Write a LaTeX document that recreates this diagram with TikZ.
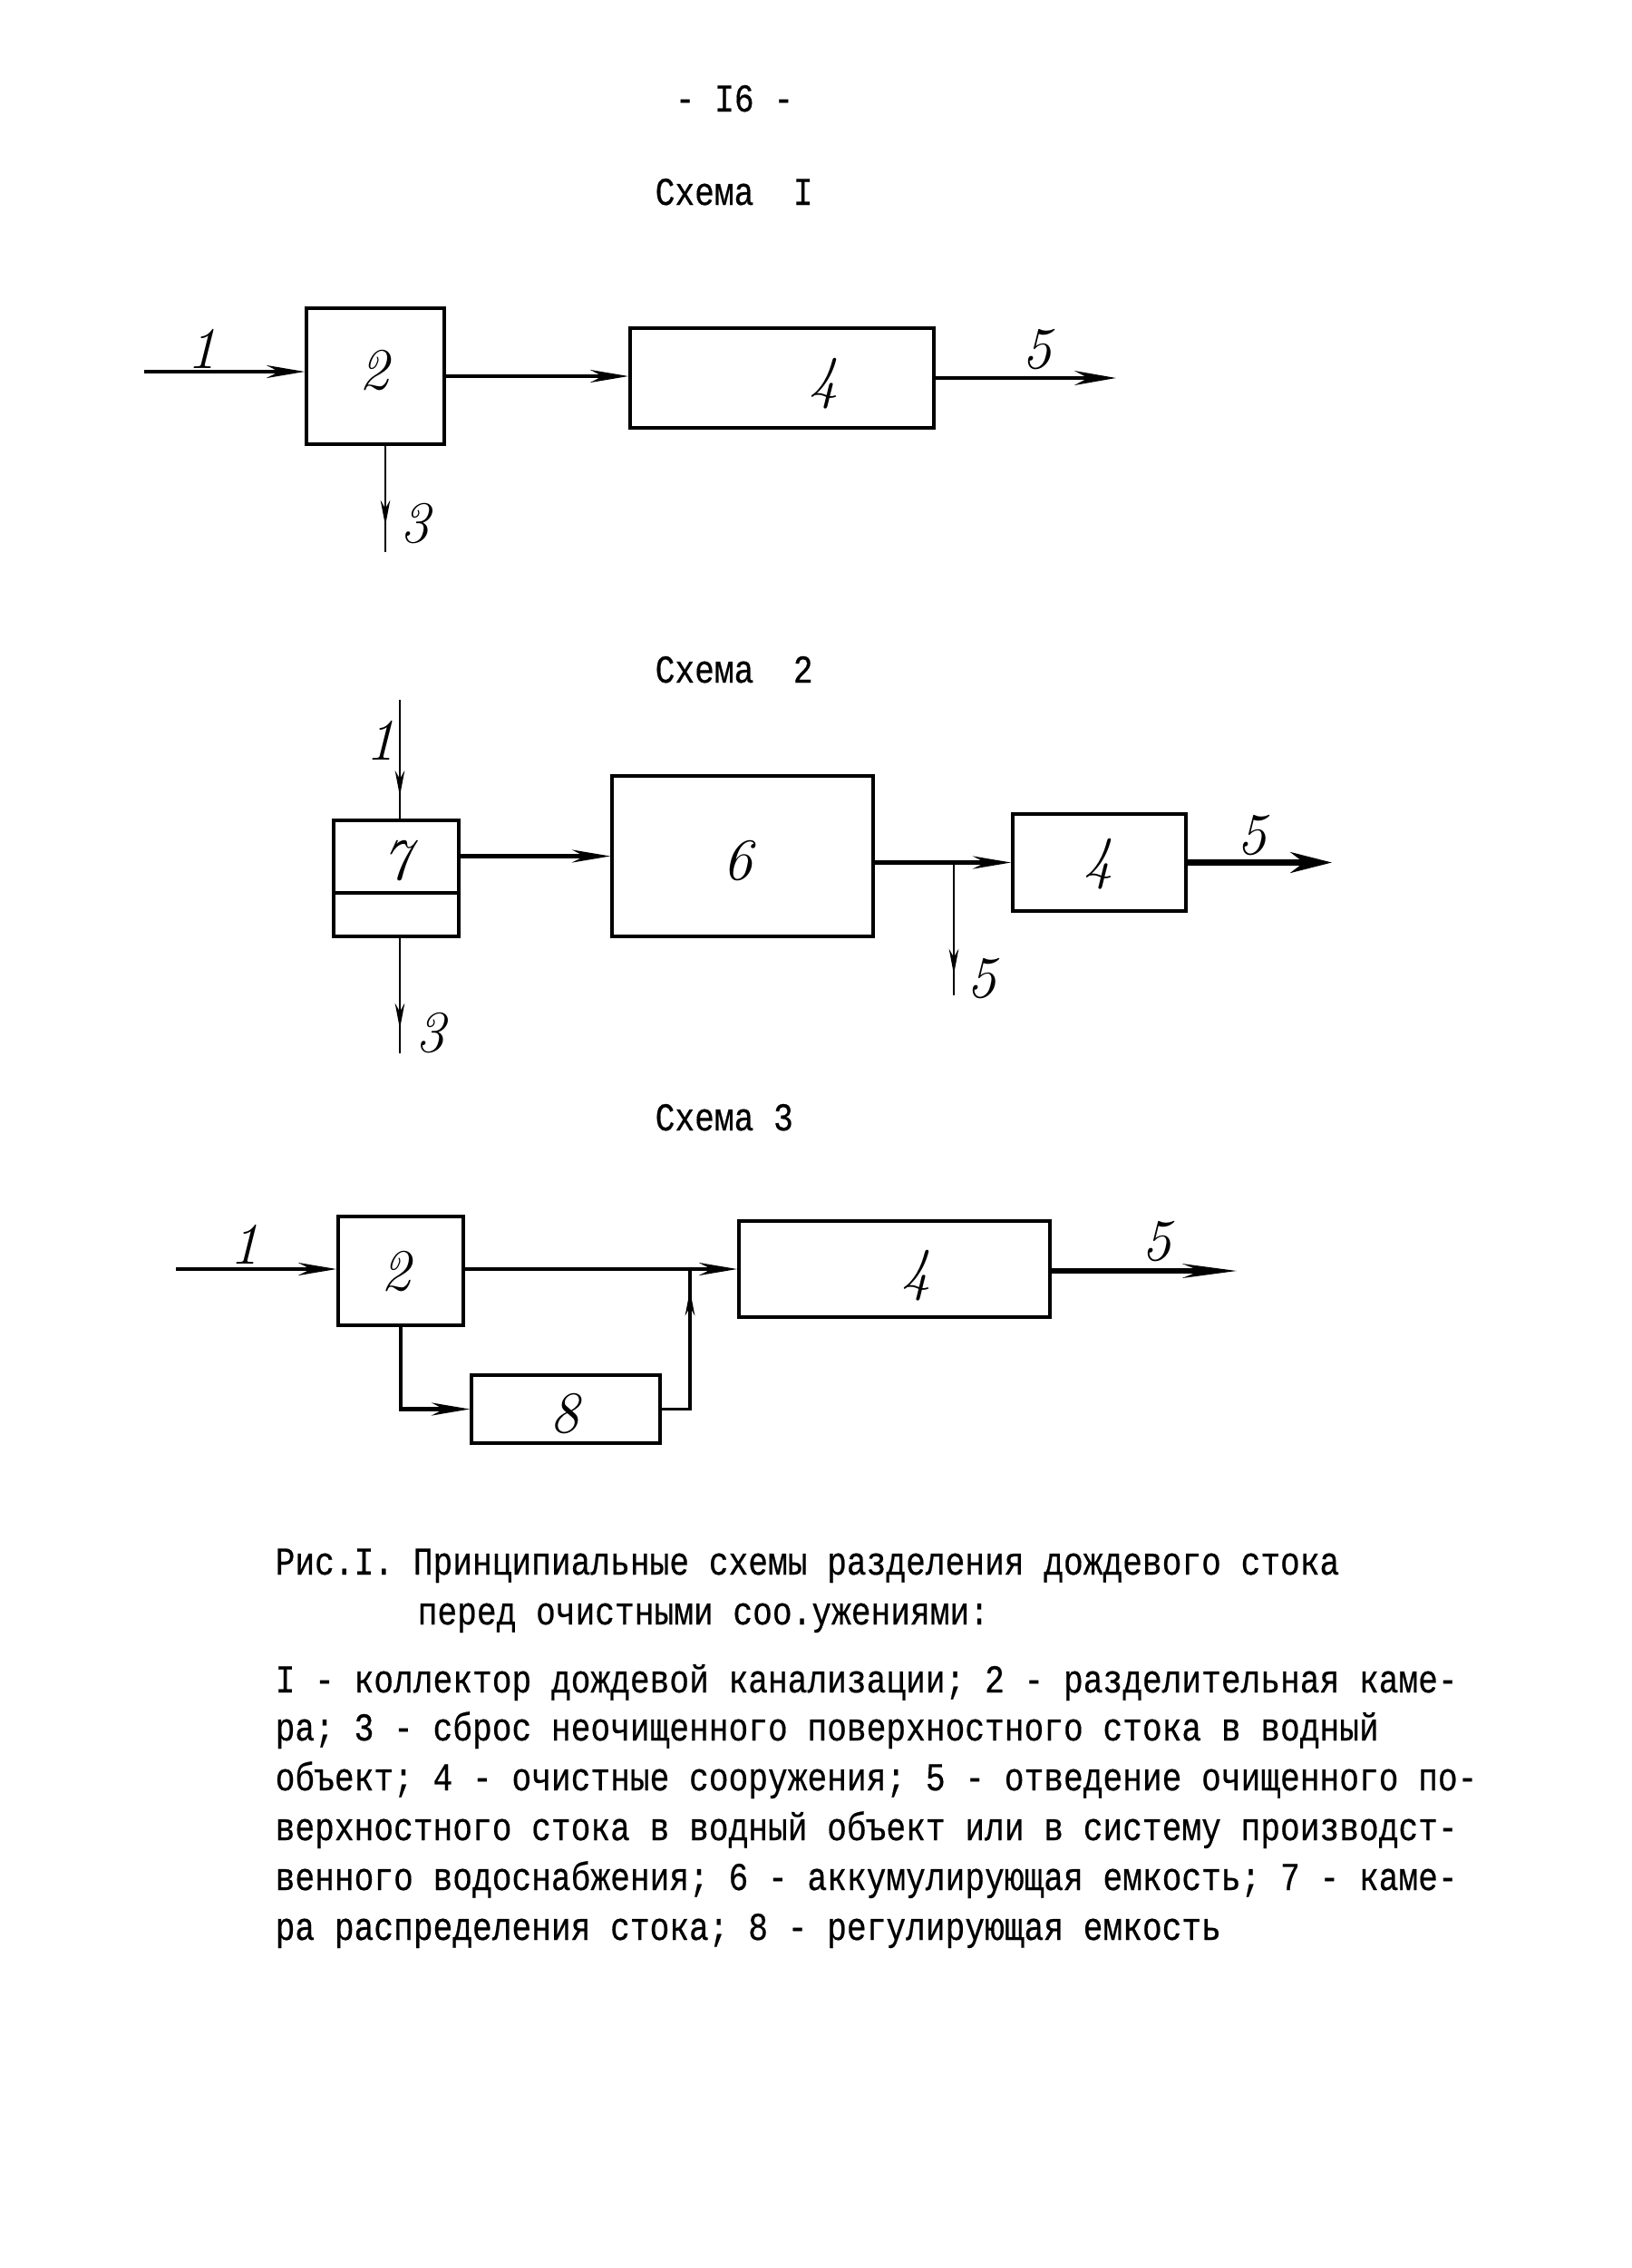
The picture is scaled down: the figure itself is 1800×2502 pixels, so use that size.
\documentclass[tikz,border=0pt]{standalone}
\usepackage{fontspec}
\usepackage{graphicx}
\setmonofont{Liberation Mono}[FakeBold=0.5]
\usetikzlibrary{arrows.meta,decorations.markings}
\newcommand\tyt[1]{\scalebox{1}[1.2]{#1}}
\begin{document}
\begin{tikzpicture}[x=0.01cm,y=-0.01cm,
  box/.style={draw, line width=1pt, inner sep=0pt, rectangle},
  lab/.style={font=\fontsize{18.5}{18.5}\selectfont\itshape, inner sep=0pt},
  tw/.style={font=\ttfamily\fontsize{10.3}{12}\selectfont, inner sep=0pt, anchor=base west},
  arr/.style={line width=1.2pt, -{Stealth[length=12pt,width=4pt]}},
  thinln/.style={line width=0.8pt},
  midtip/.style={postaction={decorate}, decoration={markings, mark=at position #1 with {\arrow{Stealth[length=8pt,width=3pt]}}}}
]
\useasboundingbox (0,0) rectangle (1800,2502);

% header
\node[tw] (hdr) at (744,123) {\tyt{- I6 -}};
\node[tw] (t1) at (722,226) {\tyt{Схема~~I}};

% ---------- Schema 1
\node[box, minimum width=1.52cm, minimum height=1.5cm] (a2) at (414,415) {};
\node[box, minimum width=3.35cm, minimum height=1.1cm] (a4) at (862.5,417) {};
\coordinate (a1s) at (159,410);
\draw[arr] (a1s) -- (a1s -| a2.west);
\draw[arr] (a2.east) -- (a2.east -| a4.west);
\coordinate (a5e) at (1231,417);
\draw[line width=1.3pt, -{Stealth[length=13pt,width=4.5pt]}] (a4.east) -- (a5e);
\coordinate (a3e) at (425,609);
\draw[thinln, midtip=-0.29cm] (a3e |- a2.south) -- (a3e);
\node[lab] (la1) at (223,385) {1};
\node[lab] (la2) at (413,409) {2};
\node[lab] (la4) at (909,423) {4};
\node[lab] (la5) at (1144,386) {5};
\node[lab] (la3) at (458,578) {3};

% ---------- Schema 2
\node[tw] (t2) at (722,753) {\tyt{Схема~~2}};
\node[box, minimum width=1.38cm, minimum height=1.28cm] (b7) at (437,969) {};
\coordinate (b7d) at (437,985);
\draw[line width=1pt] (b7d -| b7.west) -- (b7d -| b7.east);
\node[box, minimum width=2.88cm, minimum height=1.77cm] (b6) at (819,944.5) {};
\node[box, minimum width=1.91cm, minimum height=1.07cm] (b4) at (1212.5,951.5) {};
\coordinate (b1s) at (441,772);
\draw[thinln, midtip=-0.25cm] (b1s) -- (b1s |- b7.north);
\draw[arr] (b7.east |- b6.west) -- (b6.west);
\coordinate (bj) at (1052,951.5);
\draw[arr] (b6.east |- b4.west) -- (b4.west);
\coordinate (bd) at (1052,1098);
\draw[thinln, midtip=-0.23cm] (bj) -- (bd);
\coordinate (b5e) at (1469,955);
\draw[line width=1.8pt, -{Stealth[length=13pt,width=6.5pt]}] (b4.east) -- (b4.east -| b5e);
\coordinate (b3e) at (441,1162);
\draw[thinln, midtip=-0.27cm] (b3e |- b7.south) -- (b3e);
\node[lab] (lb1) at (420,817) {1};
\node[lab] (lb7) at (438,950) {7};
\node[lab] (lb6) at (814,950) {6};
\node[lab] (lb4) at (1212,953) {4};
\node[lab] (lb5a) at (1381,922) {5};
\node[lab] (lb5b) at (1083,1080) {5};
\node[lab] (lb3) at (475,1140) {3};

% ---------- Schema 3
\node[tw] (t3) at (722,1247) {\tyt{Схема 3}};
\node[box, minimum width=1.38cm, minimum height=1.2cm] (c2) at (442,1402) {};
\node[box, minimum width=3.43cm, minimum height=1.06cm] (c4) at (986.5,1400) {};
\node[box, minimum width=2.08cm, minimum height=0.75cm] (c8) at (624,1554.5) {};
\coordinate (c1s) at (194,1400);
\draw[arr] (c1s) -- (c1s -| c2.west);
\coordinate (cj) at (761,1400);
\draw[arr] (c2.east |- c4.west) -- (c4.west);
\draw[arr] (c2.south) -- (c2.south |- c8.west) -- (c8.west);
\draw[thinln, line width=1pt, midtip=-0.23cm] (c8.east) -| (cj);
\coordinate (c5e) at (1364,1402);
\draw[line width=1.5pt, -{Stealth[length=17pt,width=4.5pt]}] (c4.east |- c5e) -- (c5e);
\node[lab] (lc1) at (270,1373) {1};
\node[lab] (lc2) at (437,1403) {2};
\node[lab] (lc4) at (1011,1407) {4};
\node[lab] (lc5) at (1276,1370) {5};
\node[lab] (lc8) at (623,1560) {8};

% ---------- caption
\node[tw] (cap1) at (303,1737) {\tyt{Рис.I. Принципиальные схемы разделения дождевого стока}};
\node[tw] (cap2) at (460,1792) {\tyt{перед очистными соо.ужениями:}};
\node[tw] (cap3) at (303,1867) {\tyt{I - коллектор дождевой канализации; 2 - разделительная каме-}};
\node[tw] (cap4) at (303,1920) {\tyt{ра; 3 - сброс неочищенного поверхностного стока в водный}};
\node[tw] (cap5) at (303,1975) {\tyt{объект; 4 - очистные сооружения; 5 - отведение очищенного по-}};
\node[tw] (cap6) at (303,2030) {\tyt{верхностного стока в водный объект или в систему производст-}};
\node[tw] (cap7) at (303,2085) {\tyt{венного водоснабжения; 6 - аккумулирующая емкость; 7 - каме-}};
\node[tw] (cap8) at (303,2140) {\tyt{ра распределения стока; 8 - регулирующая емкость}};
\end{tikzpicture}
\end{document}
